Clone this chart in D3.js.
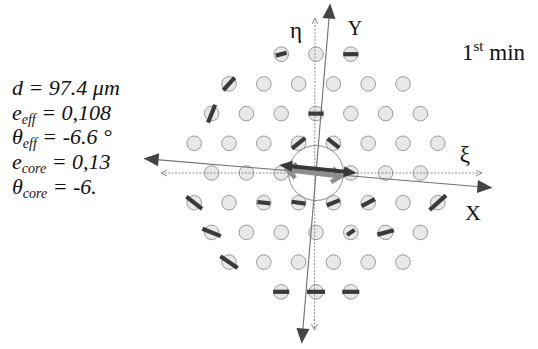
<!DOCTYPE html>
<html><head><meta charset="utf-8">
<script src="https://cdn.jsdelivr.net/npm/d3@7"></script>
<style>html,body{margin:0;padding:0;background:#fff;} svg{display:block}</style>
</head><body><svg id="c" width="538" height="349"></svg>
<script>
// ---- data ----
const rows = [-4, -3, -2, -1, 0, 1, 2, 3, 4];            // lattice row index
const rowHalfWidths = [1, 2.5, 3, 3.5, 3, 3.5, 3, 2.5, 1]; // extent of each row (in pitches)
const stickU     = [-1, 1, -2.5, -3, 0, -0.5, 0.5, -3.5, -1.5, -0.5, 0.5, 1.5, 3.5, -3, 1, 2, -2.5, -1, 0, 1];
const stickV     = [-4, -4, -3, -2, -2, -1, -1, 1, 1, 1, 1, 1, 1, 2, 2, 2, 3, 4, 4, 4];
const stickAngle = [-15, 0, -48, -68, 0, -39, 38, 38, 6, 8, -22, -28, -42, 22, -34, -15, 34, 0, 0, 0];
const stickLen   = [0.32, 0.43, 0.49, 0.55, 0.43, 0.49, 0.43, 0.57, 0.37, 0.40, 0.40, 0.43, 0.63, 0.57, 0.26, 0.49, 0.60, 0.46, 0.52, 0.49];
const paramSymbols = ["d", "e", "θ", "e", "θ"];
const paramSubs    = ["", "eff", "eff", "core", "core"];
const paramValues  = [" = 97.4 μm", " = 0,108", " = -6.6 °", " = 0,13", " = -6."];
const axisLabels   = ["η", "Y", "ξ", "X"];
const frameTilt = 4.8;      // rotation of X/Y frame (deg, screen)
const effTilt = 5.9;        // rotation of effective ellipse axis

// ---- drawing ----
const svg = d3.select("#c");
svg.append("rect").attr("width", 538).attr("height", 349).attr("fill", "#fff");
const pitch = 34.8, rowStep = 29.7;
const x = d3.scaleLinear().domain([-1, 1]).range([316 - pitch, 316 + pitch]);
const y = d3.scaleLinear().domain([-1, 1]).range([173 - rowStep, 173 + rowStep]);
const cx = x(0), cy = y(0);

const cells = [];
rows.forEach((v, i) => {
  const h = rowHalfWidths[i];
  for (let u = -h; u <= h + 1e-9; u += 1) {
    if (!(v === 0 && Math.abs(u) < 1e-9)) cells.push({u, v});
  }
});

svg.append("g").selectAll("circle").data(cells).join("circle")
  .attr("cx", d => x(d.u)).attr("cy", d => y(d.v)).attr("r", 7.3)
  .attr("fill", "#e8e8e8").attr("stroke", "#9a9a9a").attr("stroke-width", 1);

function chevron(g, tx, ty, dir, len, hw, color, sw) {
  const a = dir * Math.PI / 180;
  const bx = Math.cos(a), by = Math.sin(a);
  const px = -by, py = bx;
  const p1 = [tx - bx * len + px * hw, ty - by * len + py * hw];
  const p2 = [tx - bx * len - px * hw, ty - by * len - py * hw];
  g.append("polyline").attr("points", [p1, [tx, ty], p2].map(p => p.join(",")).join(" "))
    .attr("fill", "none").attr("stroke", color).attr("stroke-width", sw);
}
function tri(g, tx, ty, dir, len, hw, color) {
  const a = dir * Math.PI / 180;
  const bx = Math.cos(a), by = Math.sin(a);
  const px = -by, py = bx;
  const p1 = [tx - bx * len + px * hw, ty - by * len + py * hw];
  const p2 = [tx - bx * len - px * hw, ty - by * len - py * hw];
  g.append("polygon").attr("points", [p1, [tx, ty], p2].map(p => p.join(",")).join(" "))
    .attr("fill", color);
}

// dotted reference axes (xi, eta)
const dot = svg.append("g");
dot.append("line").attr("x1", 161).attr("y1", cy).attr("x2", 482).attr("y2", cy)
  .attr("stroke", "#8c8c8c").attr("stroke-width", 1).attr("stroke-dasharray", "2,1.5");
dot.append("line").attr("x1", cx - 1).attr("y1", 18).attr("x2", cx - 1.5).attr("y2", 330)
  .attr("stroke", "#8c8c8c").attr("stroke-width", 1).attr("stroke-dasharray", "2,1.5");
chevron(dot, 161, cy, 180, 6, 3, "#8c8c8c", 1);
chevron(dot, 482, cy, 0, 6, 3, "#8c8c8c", 1);
chevron(dot, cx - 1, 18, -90, 6, 3, "#8c8c8c", 1);
chevron(dot, cx - 1.5, 330, 90, 6, 3, "#8c8c8c", 1);

// solid tilted frame (X, Y)
const fr = svg.append("g").attr("transform", `rotate(${frameTilt},${cx},${cy})`);
fr.append("line").attr("x1", cx - 172).attr("y1", cy).attr("x2", cx + 176).attr("y2", cy)
  .attr("stroke", "#707070").attr("stroke-width", 1.1);
fr.append("line").attr("x1", cx).attr("y1", cy - 169).attr("x2", cx).attr("y2", cy + 170)
  .attr("stroke", "#707070").attr("stroke-width", 1.1);
tri(fr, cx - 173, cy, 180, 15, 6.5, "#444");
tri(fr, cx + 177, cy, 0, 15, 6.5, "#444");
tri(fr, cx, cy - 170, -90, 15, 6.5, "#444");
tri(fr, cx, cy + 171, 90, 15, 6.5, "#444");

// sticks
const sticks = stickU.map((u, i) => ({u, v: stickV[i], a: stickAngle[i], l: stickLen[i] * pitch}));
svg.append("g").selectAll("line").data(sticks).join("line")
  .attr("x1", d => x(d.u) - Math.cos(d.a * Math.PI / 180) * d.l / 2)
  .attr("y1", d => y(d.v) - Math.sin(d.a * Math.PI / 180) * d.l / 2)
  .attr("x2", d => x(d.u) + Math.cos(d.a * Math.PI / 180) * d.l / 2)
  .attr("y2", d => y(d.v) + Math.sin(d.a * Math.PI / 180) * d.l / 2)
  .attr("stroke", "#3a3a3a").attr("stroke-width", 4.2);

// central aperture
svg.append("circle").attr("cx", cx).attr("cy", cy).attr("r", 27.5)
  .attr("fill", "none").attr("stroke", "#8a8a8a").attr("stroke-width", 1);

// core ellipse axis (gray) and effective axis (dark)
const core = svg.append("g").attr("transform", `translate(${cx - 2},${cy}) rotate(${effTilt + 1})`);
core.append("line").attr("x1", -25).attr("y1", 0).attr("x2", 25).attr("y2", 0)
  .attr("stroke", "#8e8e8e").attr("stroke-width", 5);
chevron(core, -27, 0, 180, 9, 7, "#8e8e8e", 4.5);
chevron(core, 27, 0, 0, 9, 7, "#8e8e8e", 4.5);
const eff = svg.append("g").attr("transform", `translate(${cx + 2},${cy - 4}) rotate(${effTilt})`);
eff.append("line").attr("x1", -30).attr("y1", 0).attr("x2", 30).attr("y2", 0)
  .attr("stroke", "#383838").attr("stroke-width", 4);
tri(eff, -39, 0, 180, 13, 5.5, "#383838");
tri(eff, 39, 0, 0, 13, 5.5, "#383838");

// axis labels
const serif = "'Liberation Serif','Times New Roman',serif";
const lab = svg.append("g").attr("font-family", serif).attr("fill", "#111").attr("text-anchor", "middle");
lab.append("text").attr("x", 296).attr("y", 38).attr("font-size", 23).text(axisLabels[0]);
lab.append("text").attr("x", 355).attr("y", 35).attr("font-size", 20).text(axisLabels[1]);
lab.append("text").attr("x", 465).attr("y", 162).attr("font-size", 23).text(axisLabels[2]);
lab.append("text").attr("x", 473).attr("y", 220).attr("font-size", 22).text(axisLabels[3]);

const title = svg.append("text").attr("x", 462).attr("y", 60).attr("font-family", serif)
  .attr("font-size", 23).attr("fill", "#111");
title.append("tspan").text("1");
title.append("tspan").attr("font-size", 15).attr("dy", -9).text("st");
title.append("tspan").attr("dy", 9).text(" min");

// parameter block
const baselines = [95, 119.5, 144, 169, 194];
const pg = svg.append("g").attr("font-family", serif).attr("font-style", "italic")
  .attr("font-size", 22).attr("fill", "#111");
paramSymbols.forEach((s, i) => {
  const t = pg.append("text").attr("x", 12).attr("y", baselines[i]);
  t.append("tspan").text(s);
  if (paramSubs[i]) {
    t.append("tspan").attr("font-size", 14).attr("dy", 4).text(paramSubs[i]);
    t.append("tspan").attr("dy", -4).text(paramValues[i]);
  } else {
    t.append("tspan").text(paramValues[i]);
  }
});
</script></body></html>
